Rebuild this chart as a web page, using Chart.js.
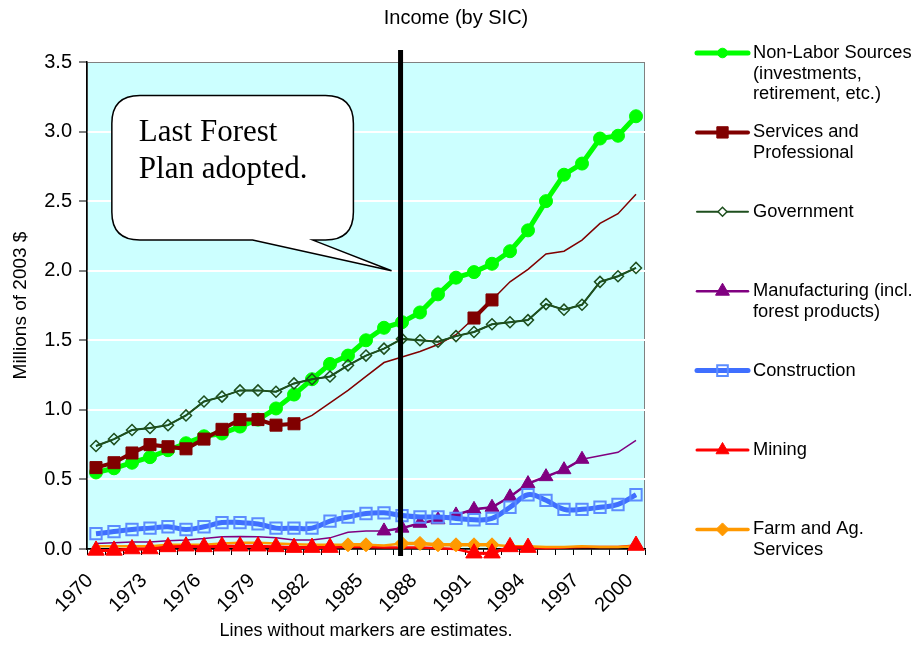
<!DOCTYPE html>
<html>
<head>
<meta charset="utf-8">
<title>Income (by SIC)</title>
<script src="https://cdn.jsdelivr.net/npm/chart.js@4.4.1/dist/chart.umd.min.js"></script>
<style>
  body { margin: 0; background: #fff; }
  #wrap { width: 923px; height: 650px; position: relative; }
</style>
</head>
<body>
<div id="wrap"><canvas id="myChart"></canvas></div>
<script>
// categories
const years = ['1970', '1971', '1972', '1973', '1974', '1975', '1976', '1977', '1978', '1979',
  '1980', '1981', '1982', '1983', '1984', '1985', '1986', '1987', '1988', '1989',
  '1990', '1991', '1992', '1993', '1994', '1995', '1996', '1997', '1998', '1999', '2000'];

// millions of 2003 $
const nonLabor = [0.55, 0.58, 0.62, 0.66, 0.71, 0.76, 0.81, 0.83, 0.88, 0.93,
  1.01, 1.11, 1.22, 1.33, 1.39, 1.50, 1.59, 1.63, 1.70, 1.83,
  1.95, 1.99, 2.05, 2.14, 2.29, 2.50, 2.69, 2.77, 2.95, 2.97, 3.11];
const services = [0.585, 0.62, 0.69, 0.75, 0.735, 0.72, 0.79, 0.86, 0.93, 0.93,
  0.89, 0.90, 0.96, 1.05, 1.14, 1.24, 1.34, 1.38, 1.42, 1.47,
  1.54, 1.66, 1.79, 1.92, 2.01, 2.12, 2.14, 2.22, 2.34, 2.41, 2.55];
const government = [0.74, 0.79, 0.855, 0.87, 0.89, 0.96, 1.06, 1.095, 1.14, 1.14,
  1.13, 1.19, 1.22, 1.24, 1.32, 1.39, 1.44, 1.51, 1.50, 1.49,
  1.53, 1.56, 1.615, 1.63, 1.645, 1.76, 1.72, 1.755, 1.92, 1.96, 2.02];
const manufacturing = [0.04, 0.045, 0.05, 0.05, 0.06, 0.065, 0.075, 0.088, 0.09, 0.088,
  0.08, 0.065, 0.065, 0.08, 0.12, 0.13, 0.13, 0.15, 0.185, 0.21,
  0.245, 0.285, 0.30, 0.375, 0.47, 0.52, 0.57, 0.645, 0.67, 0.695, 0.78];
const construction = [0.11, 0.125, 0.14, 0.15, 0.16, 0.14, 0.16, 0.19, 0.19, 0.18,
  0.15, 0.15, 0.15, 0.20, 0.23, 0.255, 0.26, 0.24, 0.23, 0.23,
  0.22, 0.21, 0.22, 0.30, 0.39, 0.35, 0.285, 0.285, 0.30, 0.32, 0.39];
const mining = [-0.01, -0.01, 0.0, 0.0, 0.015, 0.02, 0.015, 0.02, 0.02, 0.02,
  0.015, 0.01, 0.01, 0.01, 0.015, 0.015, 0.01, 0.01, 0.01, 0.005,
  0.0, -0.03, -0.03, 0.015, 0.01, 0.005, 0.01, 0.015, 0.015, 0.015, 0.025];
const farm = [0.02, 0.02, 0.02, 0.02, 0.03, 0.03, 0.03, 0.04, 0.045, 0.045,
  0.04, 0.035, 0.03, 0.03, 0.03, 0.03, 0.025, 0.04, 0.04, 0.03,
  0.03, 0.03, 0.03, 0.02, 0.02, 0.015, 0.015, 0.02, 0.015, 0.015, 0.02];

// year ranges that have markers (the rest are estimates)
const nonLaborMarked = [[1970, 2000]];
const servicesMarked = [[1970, 1981], [1991, 1992]];
const governmentMarked = [[1970, 2000]];
const manufacturingMarked = [[1986, 1997]];
const constructionMarked = [[1970, 2000]];
const miningMarked = [[1970, 1983], [1991, 1994], [2000, 2000]];
const farmMarked = [[1984, 1985], [1987, 1992]];

const yTicks = [0, 0.5, 1, 1.5, 2, 2.5, 3, 3.5];

const FONT = "'Liberation Sans', Arial, sans-serif";

const series = [
  { name: ['Non-Labor Sources', '(investments,', 'retirement, etc.)'], values: nonLabor, marked: nonLaborMarked,
    color: '#00FF00', thick: 5, thin: 2, style: 'circle', radius: 6.5, fill: '#00FF00', border: '#00FF00', bw: 1, legendRadius: 4.8 },
  { name: ['Services and', 'Professional'], values: services, marked: servicesMarked,
    color: '#800000', thick: 4, thin: 1.5, style: 'rect', radius: 8.5, fill: '#800000', border: '#800000', bw: 1, legendRadius: 8 },
  { name: ['Government'], values: government, marked: governmentMarked,
    color: '#1E4F1E', thick: 2, thin: 1.5, style: 'rectRot', radius: 5.5, fill: 'rgba(0,0,0,0)', border: '#1E4F1E', bw: 1.5, legendRadius: 4.5 },
  { name: ['Manufacturing (incl.', 'forest products)'], values: manufacturing, marked: manufacturingMarked,
    color: '#800080', thick: 2.5, thin: 1.5, style: 'triangle', radius: 8, fill: '#800080', border: '#800080', bw: 1, legendRadius: 8 },
  { name: ['Construction'], values: construction, marked: constructionMarked,
    color: '#3F6FFF', thick: 5, thin: 2, style: 'rect', radius: 8, fill: 'rgba(0,0,0,0)', border: '#5B8CFF', bw: 2, legendRadius: 7.5, tension: 0.4 },
  { name: ['Mining'], values: mining, marked: miningMarked,
    color: '#FF0000', thick: 3, thin: 2.5, style: 'triangle', radius: 9.5, fill: '#FF0000', border: '#FF0000', bw: 1, legendRadius: 7.5, onTop: true },
  { name: ['Farm and Ag.', 'Services'], values: farm, marked: farmMarked,
    color: '#FF9900', thick: 3.5, thin: 2.5, style: 'rectRot', radius: 7, fill: '#FF9900', border: '#FF9900', bw: 1, legendRadius: 6.5 }
];

function isMarked(year, ranges) {
  return ranges.some(r => year >= r[0] && year <= r[1]);
}

const datasets = [];
series.forEach((s, i) => {
  // thin estimate line under everything of this series
  datasets.push({
    label: s.name.join(' ') + ' (est.)',
    data: s.values,
    borderColor: s.color,
    borderWidth: s.thin,
    pointRadius: 0,
    tension: s.tension || 0,
    clip: false,
    order: 20 - 2 * i
  });
  datasets.push({
    label: s.name.join(' '),
    data: s.values.map((v, k) => isMarked(+years[k], s.marked) ? v : null),
    borderColor: s.color,
    borderWidth: s.thick,
    pointStyle: s.style,
    pointRadius: s.radius,
    pointBackgroundColor: s.fill,
    pointBorderColor: s.border,
    pointBorderWidth: s.bw,
    tension: s.tension || 0,
    spanGaps: false,
    clip: false,
    order: s.onTop ? 0 : 19 - 2 * i
  });
});

// plan line and call-out in scale units
const planPos = years.indexOf('1987') - 0.08;
const callout = { x0: 0.88, x1: 14.3, y0: 3.26, y1: 2.22, baseA: 8.7, baseB: 12.05, tipY: 2.0, r: 28 };

const plotBg = {
  id: 'plotBg',
  beforeDraw(chart) {
    const { ctx, chartArea: a } = chart;
    ctx.save();
    ctx.fillStyle = '#CCFFFF';
    ctx.fillRect(a.left, a.top, a.right - a.left, a.bottom - a.top);
    ctx.strokeStyle = '#808080';
    ctx.lineWidth = 1;
    ctx.strokeRect(a.left + 0.5, a.top + 0.5, a.right - a.left - 1, a.bottom - a.top);
    ctx.restore();
  }
};

const extras = {
  id: 'extras',
  afterDraw(chart) {
    const { ctx, chartArea: a } = chart;
    const xs = chart.scales.x, ys = chart.scales.y;
    ctx.save();

    // plan line
    const px = xs.getPixelForValue(planPos);
    ctx.strokeStyle = '#000';
    ctx.lineWidth = 5;
    ctx.beginPath();
    ctx.moveTo(px, a.top - 12);
    ctx.lineTo(px, a.bottom + 7);
    ctx.stroke();

    // speech bubble
    const L = xs.getPixelForValue(callout.x0), R = xs.getPixelForValue(callout.x1);
    const T = ys.getPixelForValue(callout.y0), B = ys.getPixelForValue(callout.y1);
    const r = callout.r;
    const tipX = px - 9, tipY = ys.getPixelForValue(callout.tipY);
    ctx.beginPath();
    ctx.moveTo(L + r, T);
    ctx.lineTo(R - r, T);
    ctx.quadraticCurveTo(R, T, R, T + r);
    ctx.lineTo(R, B - r);
    ctx.quadraticCurveTo(R, B, R - r, B);
    ctx.lineTo(xs.getPixelForValue(callout.baseB), B);
    ctx.lineTo(tipX, tipY);
    ctx.lineTo(xs.getPixelForValue(callout.baseA), B);
    ctx.lineTo(L + r, B);
    ctx.quadraticCurveTo(L, B, L, B - r);
    ctx.lineTo(L, T + r);
    ctx.quadraticCurveTo(L, T, L + r, T);
    ctx.closePath();
    ctx.fillStyle = '#fff';
    ctx.fill();
    ctx.lineWidth = 1.5;
    ctx.strokeStyle = '#000';
    ctx.stroke();

    ctx.fillStyle = '#000';
    ctx.font = "31px 'Liberation Serif', 'Times New Roman', serif";
    ctx.textAlign = 'left';
    ctx.textBaseline = 'alphabetic';
    ctx.fillText('Last Forest', L + 27, T + 46);
    ctx.fillText('Plan adopted.', L + 27, T + 83);

    // title
    ctx.font = '20px ' + FONT;
    ctx.textAlign = 'center';
    ctx.textBaseline = 'middle';
    ctx.fillText('Income (by SIC)', 456, 18);

    // legend
    const lx0 = 697, lx1 = 748, tx = 753;
    series.forEach((s, i) => {
      const y = 53 + i * 79.4;
      ctx.strokeStyle = s.color;
      ctx.lineWidth = s.thick;
      ctx.lineCap = 'round';
      ctx.beginPath();
      ctx.moveTo(lx0, y);
      ctx.lineTo(lx1, y);
      ctx.stroke();
      ctx.lineCap = 'butt';
      ctx.fillStyle = s.fill === 'rgba(0,0,0,0)' ? (s.style === 'rect' ? 'rgba(0,0,0,0)' : '#fff') : s.fill;
      ctx.strokeStyle = s.border;
      ctx.lineWidth = s.bw;
      Chart.helpers.drawPoint(ctx, { pointStyle: s.style, radius: s.legendRadius, rotation: 0, borderWidth: s.bw }, (lx0 + lx1) / 2, y);
      ctx.fillStyle = '#000';
      ctx.font = '18.3px ' + FONT;
      ctx.textAlign = 'left';
      ctx.textBaseline = 'middle';
      s.name.forEach((line, k) => ctx.fillText(line, tx, y + k * 20.5));
    });
    ctx.restore();
  }
};

const ctx = document.getElementById('myChart');

const chart = new Chart(ctx, {
  type: 'line',
  data: { labels: years, datasets: datasets },
  options: {
    responsive: true,
    maintainAspectRatio: false,
    animation: false,
    events: [],
    layout: { padding: { top: 62, right: 278, left: 0, bottom: 0 } },
    plugins: {
      legend: { display: false },
      title: { display: false },
      tooltip: { enabled: false }
    },
    scales: {
      x: {
        type: 'category',
        offset: true,
        grid: { offset: true, drawOnChartArea: false, drawTicks: true, tickLength: 6, tickColor: '#000', tickWidth: 1 },
        border: { color: '#000', width: 1.5 },
        ticks: {
          autoSkip: false,
          minRotation: 45,
          maxRotation: 45,
          padding: 14,
          labelOffset: -6,
          color: '#000',
          font: { family: FONT, size: 20 },
          callback: function (v, i) { return i % 3 === 0 ? this.getLabelForValue(v) : ''; }
        },
        title: { display: true, text: 'Lines without markers are estimates.', color: '#000', font: { family: FONT, size: 18 }, padding: { top: 0, bottom: 8 } },
        afterFit: s => { s.height = 101; }
      },
      y: {
        min: 0,
        max: 3.5,
        afterBuildTicks: s => { s.ticks = yTicks.map(v => ({ value: v })); },
        ticks: { color: '#000', padding: 7, font: { family: FONT, size: 20 }, callback: v => v.toFixed(1) },
        grid: {
          color: c => (c.tick && (c.tick.value === 0 || c.tick.value === 3.5)) ? 'rgba(0,0,0,0)' : '#fff',
          lineWidth: 2,
          tickColor: '#000',
          tickLength: 8,
          tickWidth: 1
        },
        border: { color: '#000', width: 1.5 },
        title: { display: true, text: 'Millions of 2003 $', color: '#000', font: { family: FONT, size: 19 }, padding: { top: 9, bottom: 0 } },
        afterFit: s => { s.width = 87; }
      }
    }
  },
  plugins: [plotBg, extras]
});
</script>
</body>
</html>
